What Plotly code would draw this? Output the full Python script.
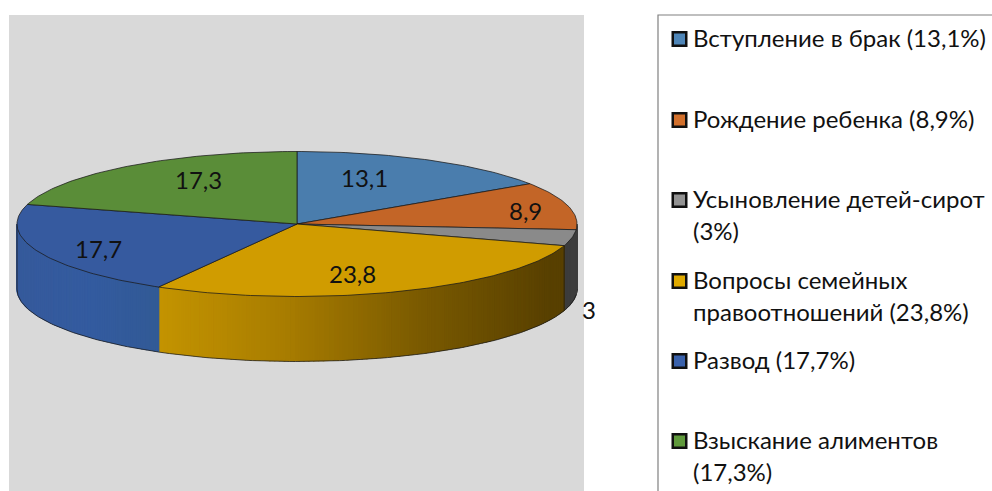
import math
import plotly.graph_objects as go

categories = ["Вступление в брак", "Рождение ребенка", "Усыновление детей-сирот",
              "Вопросы семейных правоотношений", "Развод", "Взыскание алиментов"]
values = [13.1, 8.9, 3, 23.8, 17.7, 17.3]
value_labels = ["13,1", "8,9", "3", "23,8", "17,7", "17,3"]
legend_lines = [["Вступление в брак (13,1%)"], ["Рождение ребенка (8,9%)"],
                ["Усыновление детей-сирот", "(3%)"],
                ["Вопросы семейных", "правоотношений (23,8%)"],
                ["Развод (17,7%)"], ["Взыскание алиментов", "(17,3%)"]]

top_colors = ["#4a7dad", "#c36527", "#8a8a8a", "#d09c00", "#365a9f", "#5a8d38"]
key_colors = ["#4f86b8", "#d2702c", "#939393", "#e0aa00", "#3a62ac", "#609a3c"]
side_stops = [
    [(0, (74, 125, 173)), (1, (74, 125, 173))],
    [(0, (60, 60, 60)), (1, (60, 60, 60))],
    [(0, (60, 60, 60)), (1, (60, 60, 60))],
    [(0, (196, 148, 0)), (0.3, (170, 126, 0)), (0.65, (122, 90, 0)), (0.97, (88, 64, 0)), (1, (88, 64, 0))],
    [(0, (54, 90, 156)), (0.5, (52, 92, 160)), (1, (50, 90, 150))],
    [(0, (90, 141, 56)), (1, (90, 141, 56))],
]

FONT = "Lato"
FONT_SIZE = 24
TEXT_DY = -2
W, H = 992, 491
CX, CY, A, B, DEPTH = 297, 224, 280, 72.5, 65
LABEL_POS = [(364, 179), (525, 212), (589, 311), (352, 275), (98, 250), (198, 181)]
LEGEND_Y = [39, 120, 200, 281, 361, 441]
LINE_H = 32.5
KEY_X, TEXT_X = 679.5, 691

total = sum(values)


def pt(theta, drop=0.0):
    return CX + A * math.sin(theta), CY - B * math.cos(theta) + drop


def lerp(stops, t):
    for (t0, c0), (t1, c1) in zip(stops, stops[1:]):
        if t <= t1:
            f = 0 if t1 == t0 else (t - t0) / (t1 - t0)
            return "rgb(%d,%d,%d)" % tuple(c0[i] + (c1[i] - c0[i]) * f for i in range(3))
    return "rgb(%d,%d,%d)" % stops[-1][1]


fig = go.Figure()
fig.add_shape(type="rect", x0=9, x1=584, y0=15, y1=491, fillcolor="#d9d9d9", line_width=0, layer="below")
fig.add_shape(type="rect", x0=658, x1=1010, y0=15, y1=510, fillcolor="white",
              line=dict(color="#808080", width=1.2), layer="below")

bounds = []
c = 0.0
for v in values:
    bounds.append((c / total * 2 * math.pi, (c + v) / total * 2 * math.pi))
    c += v

STEP = math.radians(1.0)
no = dict(hoverinfo="skip", showlegend=False)
outline = "rgba(25,25,25,0.75)"

# side walls
for i, (t0, t1) in enumerate(bounds):
    s0, s1 = max(t0, math.pi / 2), min(t1, 3 * math.pi / 2)
    if s1 <= s0:
        continue
    n = max(1, int((s1 - s0) / STEP))
    xs0, xs1 = pt(s0)[0], pt(s1)[0]
    for k in range(n):
        a0 = s0 + (s1 - s0) * k / n
        a1 = s0 + (s1 - s0) * (k + 1) / n
        p0, p1 = pt(a0), pt(a1)
        q1, q0 = pt(a1, DEPTH - 0.8), pt(a0, DEPTH - 0.8)
        t = abs((p0[0] + p1[0]) / 2 - xs1) / max(1, abs(xs0 - xs1))
        col = lerp(side_stops[i], t)
        fig.add_trace(go.Scatter(x=[p0[0], p1[0], q1[0], q0[0], p0[0]], y=[p0[1], p1[1], q1[1], q0[1], p0[1]],
                                 mode="lines", fill="toself", fillcolor=col, line=dict(color=col, width=1.6), **no))
    m = 80
    arc = [s0 + (s1 - s0) * j / m for j in range(m + 1)]
    bottom = [pt(a, DEPTH) for a in arc]
    fig.add_trace(go.Scatter(x=[p[0] for p in bottom] + [bottom[-1][0], None, bottom[0][0]],
                             y=[p[1] for p in bottom] + [pt(s1)[1], None, pt(s0)[1]],
                             mode="lines", line=dict(color=outline, width=1), **no))
# edge where the grey wall meets the gold one
fig.add_trace(go.Scatter(x=[pt(bounds[3][0])[0], pt(bounds[3][0], DEPTH)[0]],
                         y=[pt(bounds[3][0])[1], pt(bounds[3][0], DEPTH)[1]],
                         mode="lines", line=dict(color=outline, width=1), **no))

# top faces
for i, (t0, t1) in enumerate(bounds):
    n = max(8, int((t1 - t0) / STEP))
    arc = [pt(t0 + (t1 - t0) * j / n) for j in range(n + 1)]
    xs = [CX] + [p[0] for p in arc] + [CX]
    ys = [CY] + [p[1] for p in arc] + [CY]
    fig.add_trace(go.Scatter(x=xs, y=ys, mode="lines", fill="toself", fillcolor=top_colors[i],
                             line=dict(color=outline, width=1), name=categories[i], hoverinfo="name", showlegend=False))

# legend keys
fig.add_trace(go.Scatter(x=[KEY_X] * len(LEGEND_Y), y=LEGEND_Y, mode="markers",
                         marker=dict(symbol="square", size=13.5, color=key_colors,
                                     line=dict(color="#111111", width=2.5)), **no))

ann = []
for (x, y), txt in zip(LABEL_POS, value_labels):
    ann.append(dict(x=x, y=y + TEXT_DY, text=txt, showarrow=False, xanchor="center", yanchor="middle",
                    font=dict(family=FONT, size=FONT_SIZE, color="#111111")))
for y, lines in zip(LEGEND_Y, legend_lines):
    for j, line in enumerate(lines):
        ann.append(dict(x=TEXT_X, y=y + j * LINE_H + TEXT_DY, text=line, showarrow=False, xanchor="left", yanchor="middle",
                        font=dict(family=FONT, size=FONT_SIZE, color="#111111")))

fig.update_layout(width=W, height=H, margin=dict(l=0, r=0, t=0, b=0), autosize=False,
                  paper_bgcolor="white", plot_bgcolor="white", annotations=ann,
                  xaxis=dict(range=[0, W], visible=False, fixedrange=True),
                  yaxis=dict(range=[H, 0], visible=False, fixedrange=True))
fig.write_html("out.html", config=dict(displayModeBar=False),
               post_script="document.body.style.margin='0';document.body.style.overflow='hidden';")
